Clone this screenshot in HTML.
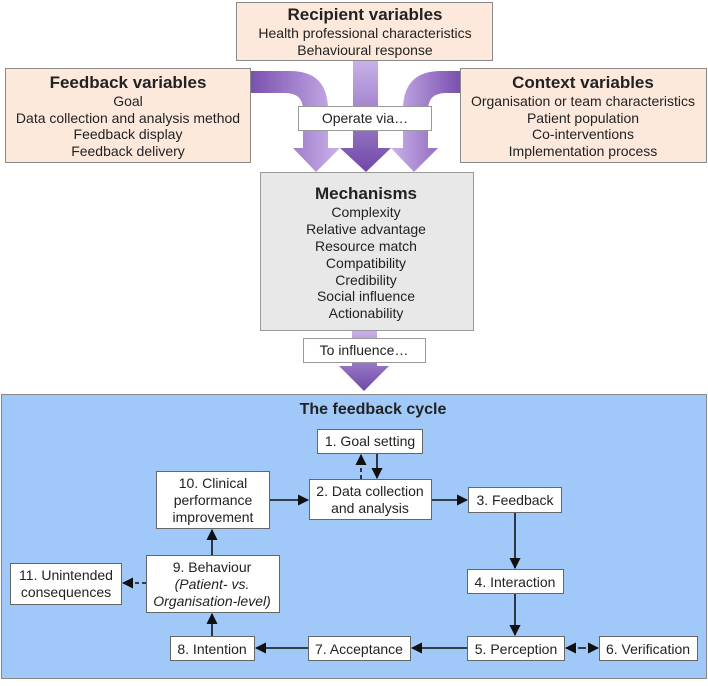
<!DOCTYPE html>
<html><head><meta charset="utf-8"><style>
body{margin:0;background:#fff}
svg text{font-family:"Liberation Sans",Arial,sans-serif;fill:#222}
.t{font-size:14px;text-anchor:middle}
.b{font-size:17px;font-weight:bold;text-anchor:middle}
.c{font-size:14px;text-anchor:middle}
</style></head><body>
<svg width="708" height="681" viewBox="0 0 708 681" xmlns="http://www.w3.org/2000/svg">
<defs>
<linearGradient id="gl" x1="0" y1="0" x2="1" y2="0"><stop offset="0" stop-color="#7a4fae"/><stop offset="1" stop-color="#c9b2ea"/></linearGradient>
<linearGradient id="gr" x1="1" y1="0" x2="0" y2="0"><stop offset="0" stop-color="#7a4fae"/><stop offset="1" stop-color="#c9b2ea"/></linearGradient>
<linearGradient id="gv" x1="0" y1="0" x2="0" y2="1"><stop offset="0" stop-color="#c9b2ea"/><stop offset="1" stop-color="#7048a8"/></linearGradient>
<marker id="a" viewBox="0 0 10 10" refX="9" refY="5" markerWidth="7" markerHeight="7" orient="auto"><path d="M0,0L10,5L0,10z" fill="#111"/></marker>
</defs>
<path d="M250,71 L290,71 Q328,71 328,110 L328,148 L340,148 L316,172 L293,148 L303,148 L303,110 Q303,93 285,93 L250,93 Z" fill="url(#gl)"/>
<path d="M460,71 L441,71 Q403,71 403,110 L403,148 L391,148 L414,172 L438,148 L428,148 L428,110 Q428,93 446,93 L460,93 Z" fill="url(#gr)"/>
<path d="M353,60 L378,60 L378,148 L391,148 L366,172 L340,148 L353,148 Z" fill="url(#gv)"/>
<rect x="236.5" y="2.5" width="256" height="58" fill="#fde9dc" stroke="#8a8a8a"/>
<text class="b" x="365" y="20">Recipient variables</text>
<text class="t" x="365" y="38">Health professional characteristics</text>
<text class="t" x="365" y="55">Behavioural response</text>
<rect x="5.5" y="68.5" width="245" height="94" fill="#fde9dc" stroke="#8a8a8a"/>
<text class="b" x="128" y="88">Feedback variables</text>
<text class="t" x="128" y="106">Goal</text>
<text class="t" x="128" y="123">Data collection and analysis method</text>
<text class="t" x="128" y="139">Feedback display</text>
<text class="t" x="128" y="156">Feedback delivery</text>
<rect x="460.5" y="68.5" width="246" height="94" fill="#fde9dc" stroke="#8a8a8a"/>
<text class="b" x="583" y="88">Context variables</text>
<text class="t" x="583" y="106">Organisation or team characteristics</text>
<text class="t" x="583" y="123">Patient population</text>
<text class="t" x="583" y="139">Co-interventions</text>
<text class="t" x="583" y="156">Implementation  process</text>
<rect x="298.5" y="106.5" width="133" height="24" fill="#fff" stroke="#999"/>
<text class="t" x="365" y="123">Operate via…</text>
<path d="M352,330 L377,330 L377,366 L389,366 L364,391 L339,366 L352,366 Z" fill="url(#gv)"/>
<rect x="260.5" y="172.5" width="213" height="158" fill="#e8e8e8" stroke="#999"/>
<text class="b" x="366" y="199">Mechanisms</text>
<text class="t" x="366" y="217">Complexity</text>
<text class="t" x="366" y="234">Relative advantage</text>
<text class="t" x="366" y="251">Resource match</text>
<text class="t" x="366" y="268">Compatibility</text>
<text class="t" x="366" y="285">Credibility</text>
<text class="t" x="366" y="301">Social influence</text>
<text class="t" x="366" y="318">Actionability</text>
<rect x="303.5" y="338.5" width="122" height="24" fill="#fff" stroke="#999"/>
<text class="t" x="364" y="355">To influence…</text>
<rect x="1.5" y="394.5" width="705" height="284" fill="#a0c9f9" stroke="#888"/>
<text x="373" y="414" style="font-size:16px;font-weight:bold;text-anchor:middle">The feedback cycle</text>
<g fill="#fff" stroke="#666">
<rect x="317.5" y="429.5" width="105" height="24"/>
<rect x="309.5" y="479.5" width="122" height="40"/>
<rect x="468.5" y="487.5" width="93" height="25"/>
<rect x="467.5" y="569.5" width="96" height="24"/>
<rect x="467.5" y="636.5" width="97" height="24"/>
<rect x="599.5" y="636.5" width="98" height="24"/>
<rect x="308.5" y="636.5" width="102" height="24"/>
<rect x="170.5" y="636.5" width="84" height="24"/>
<rect x="146.5" y="555.5" width="133" height="57"/>
<rect x="10.5" y="563.5" width="111" height="41"/>
<rect x="156.5" y="471.5" width="113" height="57"/>
</g>
<text class="c" x="370" y="446">1. Goal setting</text>
<text class="c" x="370" y="496">2. Data collection</text>
<text class="c" x="370" y="513">and analysis</text>
<text class="c" x="515" y="505">3. Feedback</text>
<text class="c" x="515" y="587">4. Interaction</text>
<text class="c" x="516" y="654">5. Perception</text>
<text class="c" x="648" y="654">6. Verification</text>
<text class="c" x="359" y="654">7. Acceptance</text>
<text class="c" x="212" y="654">8. Intention</text>
<text class="c" x="212" y="572">9. Behaviour</text>
<text class="c" x="212" y="589" font-style="italic">(Patient- vs.</text>
<text class="c" x="212" y="606" font-style="italic">Organisation-level)</text>
<text class="c" x="66" y="580">11. Unintended</text>
<text class="c" x="66" y="597">consequences</text>
<text class="c" x="213" y="488">10. Clinical</text>
<text class="c" x="213" y="505">performance</text>
<text class="c" x="213" y="522">improvement</text>
<g stroke="#111" stroke-width="1.6" fill="none">
<line x1="361" y1="479" x2="361" y2="455" stroke-dasharray="4,3" marker-end="url(#a)"/>
<line x1="377" y1="454" x2="377" y2="478" marker-end="url(#a)"/>
<line x1="270" y1="500" x2="308" y2="500" marker-end="url(#a)"/>
<line x1="432" y1="500" x2="467" y2="500" marker-end="url(#a)"/>
<line x1="515" y1="513" x2="515" y2="568" marker-end="url(#a)"/>
<line x1="515" y1="594" x2="515" y2="635" marker-end="url(#a)"/>
<line x1="582" y1="648" x2="598" y2="648" stroke-dasharray="4,3" marker-end="url(#a)"/>
<line x1="582" y1="648" x2="566" y2="648" stroke-dasharray="4,3" marker-end="url(#a)"/>
<line x1="467" y1="648" x2="412" y2="648" marker-end="url(#a)"/>
<line x1="308" y1="648" x2="256" y2="648" marker-end="url(#a)"/>
<line x1="212" y1="636" x2="212" y2="614" marker-end="url(#a)"/>
<line x1="212" y1="555" x2="212" y2="530" marker-end="url(#a)"/>
<line x1="146" y1="583" x2="123" y2="583" stroke-dasharray="4,3" marker-end="url(#a)"/>
</g>
</svg>
</body></html>
